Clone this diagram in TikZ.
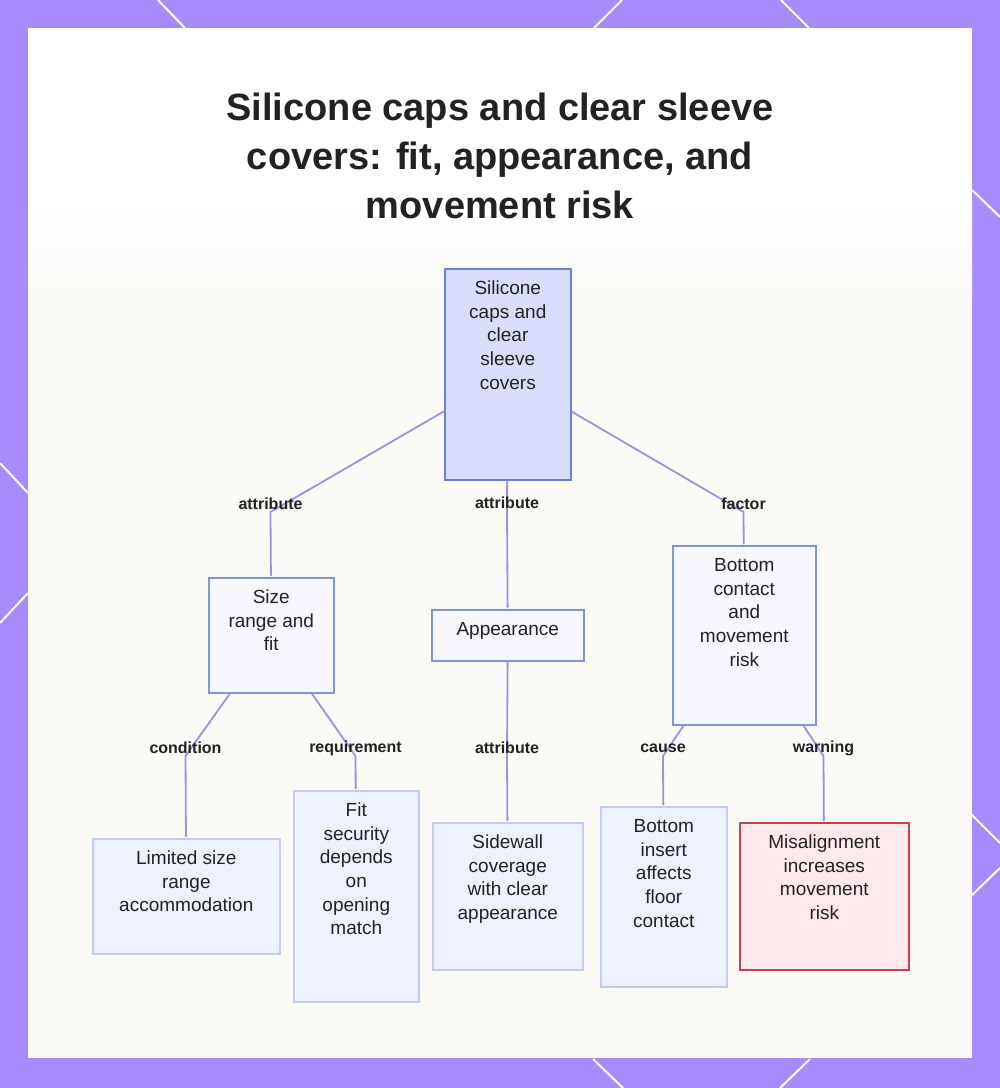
\documentclass[tikz,border=0pt]{standalone}
\usepackage{fontspec}
\setmainfont{Liberation Sans}
\usetikzlibrary{arrows.meta}

\definecolor{framepurple}{HTML}{A78BFA}
\definecolor{panelbg}{HTML}{FBFAF7}
\definecolor{edgecol}{HTML}{A08FE0}
\definecolor{rootfill}{HTML}{D9DCFB}
\definecolor{rootline}{HTML}{6E80D4}
\definecolor{midfill}{HTML}{F6F7FF}
\definecolor{midline}{HTML}{8194DA}
\definecolor{leaffill}{HTML}{EEF2FF}
\definecolor{leafline}{HTML}{C3CBF1}
\definecolor{warnfill}{HTML}{FFE9EC}
\definecolor{warnline}{HTML}{C8404F}
\definecolor{inktext}{HTML}{222222}

\newcommand{\boxtxt}[3]{\parbox[c][#2][t]{#1}{\centering\fontsize{19}{23.7}\selectfont\rule{0pt}{25.5pt}#3}}

\tikzset{
  box/.style={draw, line width=1.6pt, inner sep=0pt, anchor=north west, text=inktext},
  rootbox/.style={box, draw=rootline, fill=rootfill},
  midbox/.style={box, draw=midline, fill=midfill},
  leafbox/.style={box, draw=leafline, fill=leaffill},
  warnbox/.style={box, draw=warnline, fill=warnfill},
  edge/.style={draw=edgecol, line width=1.8pt, -{Latex[length=3pt,width=3pt]}},
  lbl/.style={font=\fontsize{16}{18}\selectfont\bfseries, text=inktext, inner sep=0pt, yshift=8pt}
}

\begin{document}
\begin{tikzpicture}[x=1pt,y=-1pt]
\useasboundingbox (0,0) rectangle (1000,1088);

% frame
\fill[framepurple] (0,0) rectangle (1000,1088);
\fill[white] (28,28) rectangle (972,1058);
\shade[top color=white, bottom color=panelbg] (28,200) rectangle (972,300);
\fill[panelbg] (28,299) rectangle (972,1058);
\draw[white, line width=2pt] (158,0) -- (185,28);
\draw[white, line width=2pt] (594,28) -- (622,0);
\draw[white, line width=2pt] (781,0) -- (809,28);
\draw[white, line width=2pt] (972,190) -- (1000,217);
\draw[white, line width=2pt] (970,813) -- (1000,843);
\draw[white, line width=2pt] (970,897) -- (1000,868);
\draw[white, line width=2pt] (593,1059) -- (623,1088);
\draw[white, line width=2pt] (810,1059) -- (780,1088);
\draw[white, line width=2pt] (0,463) -- (28,493);
\draw[white, line width=2pt] (28,593) -- (0,623);

% title
\node[text=inktext, align=center, font=\fontsize{38}{49}\selectfont\bfseries] (title) at (500,156)
  {Silicone caps and clear sleeve\\covers: fit, appearance, and\\movement risk};

% nodes
\node[rootbox] (root) at (444,268) {\boxtxt{126pt}{211pt}{Silicone\\caps and\\clear\\sleeve\\covers}};

\node[midbox] (size) at (208,577) {\boxtxt{125pt}{115pt}{Size\\range and\\fit}};
\node[midbox] (appear) at (431,609) {\boxtxt{152pt}{51pt}{Appearance}};
\node[midbox] (contact) at (672,545) {\boxtxt{143pt}{179pt}{Bottom\\contact\\and\\movement\\risk}};

\node[leafbox] (limited) at (92,838) {\boxtxt{187pt}{115pt}{Limited size\\range\\accommodation}};
\node[leafbox] (fitsec) at (293,790) {\boxtxt{125pt}{211pt}{Fit\\security\\depends\\on\\opening\\match}};
\node[leafbox] (sidewall) at (432,822) {\boxtxt{150pt}{147pt}{Sidewall\\coverage\\with clear\\appearance}};
\node[leafbox] (insert) at (600,806) {\boxtxt{126pt}{180pt}{Bottom\\insert\\affects\\floor\\contact}};
\node[warnbox] (misalign) at (739,822) {\boxtxt{169pt}{147pt}{Misalignment\\increases\\movement\\risk}};

% bends
\coordinate (b1) at (270.5,512);
\coordinate (b2) at (507,511);
\coordinate (b3) at (743.5,512);
\coordinate (b4) at (185.5,756);
\coordinate (b5) at (355.5,756);
\coordinate (b6) at (507,756);
\coordinate (b7) at (663,756);
\coordinate (b8) at (823.5,756);

% connectors
\draw[edge] (root) -- (b1) node[lbl] (l1) {attribute} -- (size);
\draw[edge] (root) -- (b2) node[lbl] (l2) {attribute} -- (appear);
\draw[edge] (root) -- (b3) node[lbl] (l3) {factor} -- (contact);
\draw[edge] (size) -- (b4) node[lbl] (l4) {condition} -- (limited);
\draw[edge] (size) -- (b5) node[lbl] (l5) {requirement} -- (fitsec);
\draw[edge] (appear) -- (b6) node[lbl] (l6) {attribute} -- (sidewall);
\draw[edge] (contact) -- (b7) node[lbl] (l7) {cause} -- (insert);
\draw[edge] (contact) -- (b8) node[lbl] (l8) {warning} -- (misalign);
\end{tikzpicture}
\end{document}
